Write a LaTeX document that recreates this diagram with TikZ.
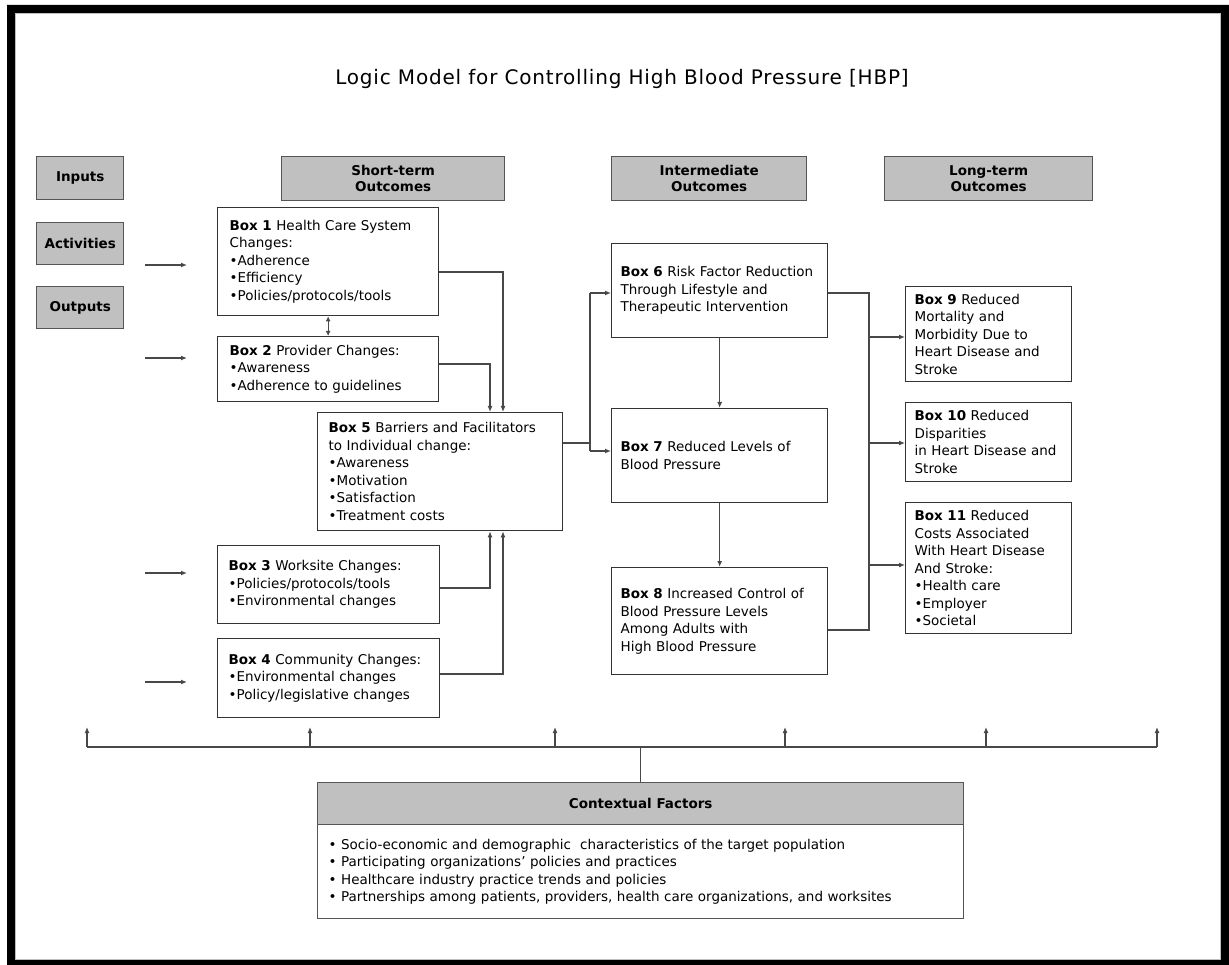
\documentclass[tikz,border=0pt]{standalone}
\usepackage{fontspec}
\setmainfont{DejaVu Sans}
\usepackage{xcolor}
\usetikzlibrary{arrows.meta,positioning}
\definecolor{HdrGray}{HTML}{C0C0C0}
\definecolor{HdrEdge}{HTML}{555555}
\definecolor{BoxEdge}{HTML}{333333}
\definecolor{LinkGray}{HTML}{484848}

\begin{document}
\begin{tikzpicture}[x=1pt,y=-1pt,font=\fontsize{13.5}{17.5}\selectfont,
  hdr/.style={draw=HdrEdge,fill=HdrGray,line width=1.4pt,anchor=north west,align=center,inner sep=0pt,
    font=\fontsize{13.5}{16}\selectfont\bfseries},
  ibox/.style={draw=BoxEdge,fill=white,line width=1.3pt,anchor=north west,align=left,inner ysep=2pt},
  link/.style={draw=LinkGray,line width=1.3pt},
  tip/.style={link,-{Latex[length=6pt,width=5pt]}},
  twotip/.style={link,{Latex[length=5pt,width=5pt]}-{Latex[length=5pt,width=5pt]}}]
  \useasboundingbox (0,0) rectangle (1229,965);
  % frame
  \fill[black,even odd rule] (7,5) rectangle (1229,965) (15,13) rectangle (1221,960);
  \draw[gray!50,line width=.8pt] (15.5,13.5) rectangle (1220.5,959.5);

  \node (title) at (622,79) {\fontsize{20}{24}\selectfont\addfontfeatures{LetterSpace=4}Logic Model for Controlling High Blood Pressure [HBP]};

  % left column labels
  \node[hdr,minimum width=87pt,minimum height=43pt] (inputs) at (36,156) {Inputs};
  \node[hdr,minimum width=87pt,minimum height=42pt] (activities) at (36,222) {Activities};
  \node[hdr,minimum width=87pt,minimum height=42pt] (outputs) at (36,286) {Outputs};

  % column headers
  \node[hdr,minimum width=223pt,minimum height=44pt] (shortterm) at (281,156) {Short-term\\Outcomes};
  \node[hdr,minimum width=195pt,minimum height=44pt] (intermediate) at (611,156) {Intermediate\\Outcomes};
  \node[hdr,minimum width=208pt,minimum height=44pt] (longterm) at (884,156) {Long-term\\Outcomes};

  % short-term boxes
  \node[ibox,inner xsep=12pt,text width=197pt,minimum height=108pt] (box1) at (217,207)
    {\textbf{Box 1} Health Care System\\Changes:\\•Adherence\\•Efficiency\\•Policies/protocols/tools};
  \node[ibox,inner xsep=12pt,text width=197pt,minimum height=65pt] (box2) at (217,336)
    {\textbf{Box 2} Provider Changes:\\•Awareness\\•Adherence to guidelines};
  \node[ibox,inner xsep=11pt,text width=223pt,minimum height=118pt] (box5) at (317,412)
    {\textbf{Box 5} Barriers and Facilitators\\to Individual change:\\•Awareness\\•Motivation\\•Satisfaction\\•Treatment costs};
  \node[ibox,inner xsep=11pt,text width=200pt,minimum height=78pt] (box3) at (217,545)
    {\textbf{Box 3} Worksite Changes:\\•Policies/protocols/tools\\•Environmental changes};
  \node[ibox,inner xsep=11pt,text width=200pt,minimum height=79pt] (box4) at (217,638)
    {\textbf{Box 4} Community Changes:\\•Environmental changes\\•Policy/legislative changes};

  % intermediate boxes
  \node[ibox,inner xsep=9pt,text width=198pt,minimum height=94pt] (box6) at (611,243)
    {\textbf{Box 6} Risk Factor Reduction\\Through Lifestyle and\\Therapeutic Intervention};
  \node[ibox,inner xsep=9pt,text width=198pt,minimum height=94pt] (box7) at (611,408)
    {\textbf{Box 7} Reduced Levels of\\Blood Pressure};
  \node[ibox,inner xsep=9pt,text width=198pt,minimum height=107pt] (box8) at (611,567)
    {\textbf{Box 8} Increased Control of\\Blood Pressure Levels\\Among Adults with\\High Blood Pressure};

  % long-term boxes
  \node[ibox,inner xsep=9pt,text width=148pt,minimum height=95pt] (box9) at (905,286)
    {\textbf{Box 9} Reduced\\Mortality and\\Morbidity Due to\\Heart Disease and\\Stroke};
  \node[ibox,inner xsep=9pt,text width=148pt,minimum height=79pt] (box10) at (905,402)
    {\textbf{Box 10} Reduced\\Disparities\\in Heart Disease and\\Stroke};
  \node[ibox,inner xsep=9pt,text width=148pt,minimum height=131pt] (box11) at (905,502)
    {\textbf{Box 11} Reduced\\Costs Associated\\With Heart Disease\\And Stroke:\\•Health care\\•Employer\\•Societal};

  % contextual factors
  \node[hdr,minimum width=646pt,minimum height=42pt] (ctx) at (317,782) {Contextual Factors};
  \node[ibox,line width=1.4pt,draw=HdrEdge,inner xsep=11pt,text width=624pt,minimum height=94pt] (ctxlist) at (317,824)
    {• Socio-economic and demographic\ \ characteristics of the target population\\
     • Participating organizations’ policies and practices\\
     • Healthcare industry practice trends and policies\\
     • Partnerships among patients, providers, health care organizations, and worksites};

  % incoming arrows
  \foreach \y [count=\i] in {265,358,573,682} {
    \coordinate (in\i) at (145,\y);
    \draw[tip] (in\i) -- +(42,0);
  }

  \draw[twotip] (box1.south) -- (box2.north);

  \coordinate (k1) at (503,272);
  \coordinate (k2) at (490,364);
  \coordinate (k3) at (490,588);
  \coordinate (k4) at (503,674);
  \draw[tip] (k1 -| box1.east) -- (k1) -- (k1 |- box5.north);
  \draw[tip] (k2 -| box2.east) -- (k2) -- (k2 |- box5.north);
  \draw[tip] (k3 -| box3.east) -- (k3) -- (k3 |- box5.south);
  \draw[tip] (k4 -| box4.east) -- (k4) -- (k4 |- box5.south);

  \coordinate (k5) at (590,443);
  \coordinate (k6) at (590,293);
  \coordinate (k7) at (590,451);
  \draw[link] (k5 -| box5.east) -- (k5);
  \draw[link] (k6) -- (k7);
  \draw[tip] (k6) -- (k6 -| box6.west);
  \draw[tip] (k7) -- (k7 -| box7.west);

  \draw[tip] (box6.south) -- (box7.north);
  \draw[tip] (box7.south) -- (box8.north);

  \coordinate (r6) at (869,293);
  \coordinate (r8) at (869,630);
  \draw[link] (r6 -| box6.east) -- (r6) -- (r8) -- (r8 -| box8.east);
  \coordinate (q9) at (869,337);
  \coordinate (q10) at (869,443);
  \coordinate (q11) at (869,565);
  \draw[tip] (q9) -- (q9 -| box9.west);
  \draw[tip] (q10) -- (q10 -| box10.west);
  \draw[tip] (q11) -- (q11 -| box11.west);

  % bottom bus
  \coordinate (bus0) at (87,747);
  \coordinate (bus1) at (1157,747);
  \draw[link] (bus0) -- (bus1);
  \foreach \x in {87,310,555,785,986,1157}
    \draw[tip] (\x,747) -- (\x,727);
  \draw[link] (ctx.north) -- (ctx.north |- bus0);
\end{tikzpicture}
\end{document}
